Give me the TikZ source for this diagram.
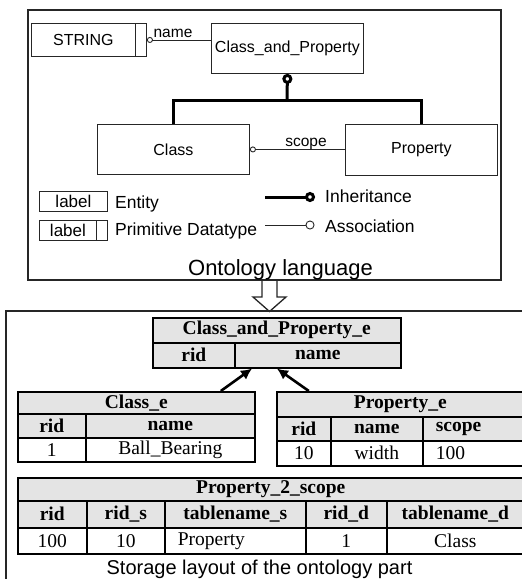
\documentclass[tikz,border=0pt]{standalone}
\usepackage{fontspec}
\newfontfamily\uisans{Liberation Sans}
\newfontfamily\tabserif{Liberation Serif}
\usetikzlibrary{arrows.meta,calc}
\definecolor{hdrgray}{HTML}{E4E4E4}
\definecolor{inkgray}{HTML}{262626}
\begin{document}
\begin{tikzpicture}[x=1pt,y=-1pt,
  every node/.style={inner sep=0pt},
  frame/.style={draw=inkgray,line width=1.3pt},
  ebox/.style={draw=inkgray,line width=0.9pt,anchor=north west,
    font=\uisans\fontsize{16}{19}\selectfont},
  lgbox/.style={ebox,font=\uisans\fontsize{17}{20}\selectfont},
  lgtext/.style={anchor=base west,font=\uisans\fontsize{17.5}{20}\selectfont},
  rolelbl/.style={anchor=base,font=\uisans\fontsize{15.5}{18}\selectfont},
  title/.style={anchor=base,font=\uisans\fontsize{#1}{#1}\selectfont},
  assoc/.style={draw=inkgray,line width=0.9pt},
  inh/.style={draw=black,line width=3pt},
  hcell/.style={draw=black,line width=1.6pt,fill=hdrgray,anchor=north west,
    font=\tabserif\bfseries\fontsize{19.5}{22}\selectfont},
  dcell/.style={draw=black,line width=1.6pt,fill=white,anchor=north west,
    font=\tabserif\fontsize{19.5}{22}\selectfont},
  lalign/.style={text width=#1,align=left},
  tarrow/.style={draw=black,line width=2.6pt,-{Latex[length=11pt,width=11pt]}}
]
\useasboundingbox (0,0) rectangle (522,579);
\clip (0,0) rectangle (522,579);

% ---------- ontology language ----------
\draw[frame,fill=white] (262,280) -- (262,297) -- (253,297) -- (269.5,311.5)
  -- (286,297) -- (277,297) -- (277,280);
\draw[frame] (28,10) rectangle (501,280);

\node[ebox,minimum width=104pt,minimum height=33pt] (strmain) at (31,23) {STRING};
\node[ebox,minimum width=11pt,minimum height=33pt] (strslot) at (135,23) {};
\node[ebox,minimum width=152pt,minimum height=50pt] (cap) at (211,23) {Class\_and\_Property};
\node[ebox,minimum width=152pt,minimum height=50pt] (cls) at (97,124) {Class};
\node[ebox,minimum width=152pt,minimum height=51pt] (prp) at (345,124) {Property};

% association: name
\draw[assoc,{Circle[open,length=6pt,width=6pt]}-] (strslot.east) -- (strslot.east -| cap.west);
\node[rolelbl] (namelbl) at (173,37.5) {name};

% association: scope
\draw[assoc,{Circle[open,length=6pt,width=6pt]}-] (cls.east) -- (cls.east -| prp.west);
\node[rolelbl] (scopelbl) at (306,146) {scope};

% inheritance
\coordinate (inhj) at (287,100);
\draw[inh] (cls.north) |- (inhj) -| (prp.north);
\draw[inh,{Circle[open,length=10pt,width=10pt]}-] (cap.south) -- (inhj);

% legend
\node[lgbox,minimum width=68pt,minimum height=20pt] (lgent) at (39,191) {label};
\node[lgbox,minimum width=57pt,minimum height=20pt] (lgprim) at (39,220) {label};
\node[lgbox,minimum width=11pt,minimum height=20pt] (lgslot) at (96,220) {};
\node[lgtext] (lgenttxt) at (115,208) {Entity};
\node[lgtext] (lgprimtxt) at (115,235) {Primitive Datatype};

\coordinate (inhA) at (265,197);
\coordinate (inhB) at (315,197);
\draw[inh,-{Circle[open,length=10pt,width=10pt]}] (inhA) -- (inhB);
\node[lgtext] (inhtxt) at (325,202) {Inheritance};

\coordinate (asA) at (265,225);
\coordinate (asB) at (314.5,225);
\draw[assoc,-{Circle[open,length=9pt,width=9pt]}] (asA) -- (asB);
\node[lgtext] (astxt) at (325,232) {Association};

\node[title=22] (onttitle) at (280.5,275) {Ontology language};

% ---------- storage layout ----------
\draw[frame] (530,311) -- (6,311) -- (6,590);

% Class_and_Property_e
\node[hcell,minimum width=248pt,minimum height=25pt] (cph) at (152,317) {Class\_and\_Property\_e};
\node[hcell,minimum width=82pt,minimum height=25pt] (cprid) at (152,342) {rid};
\node[hcell,minimum width=166pt,minimum height=25pt] (cpname) at (234,342) {name};

% Class_e
\node[hcell,minimum width=237pt,minimum height=22pt] (ceh) at (17,391) {Class\_e};
\node[hcell,minimum width=68pt,minimum height=24pt] (cerid) at (17,413) {rid};
\node[hcell,minimum width=169pt,minimum height=24pt] (cename) at (85,413) {name};
\node[dcell,minimum width=68pt,minimum height=24pt] (cev1) at (17,437) {1};
\node[dcell,minimum width=169pt,minimum height=24pt] (cev2) at (85,437) {Ball\_Bearing};

% Property_e
\node[hcell,minimum width=247pt,minimum height=25pt] (peh) at (276,391) {Property\_e};
\node[hcell,minimum width=54pt,minimum height=24pt] (perid) at (276,416) {rid};
\node[hcell,minimum width=92pt,minimum height=24pt] (pename) at (330,416) {name};
\node[hcell,minimum width=101pt,minimum height=24pt,lalign=75pt] (pescope) at (422,416) {scope};
\node[dcell,minimum width=54pt,minimum height=25pt] (pev1) at (276,440) {10};
\node[dcell,minimum width=92pt,minimum height=25pt] (pev2) at (330,440) {width};
\node[dcell,minimum width=101pt,minimum height=25pt,lalign=75pt] (pev3) at (422,440) {100};

% Property_2_scope
\node[hcell,minimum width=506pt,minimum height=23pt] (psh) at (17,477) {Property\_2\_scope};
\node[hcell,minimum width=69pt,minimum height=27pt] (psc1) at (17,500) {rid};
\node[hcell,minimum width=78pt,minimum height=27pt] (psc2) at (86,500) {rid\_s};
\node[hcell,minimum width=141pt,minimum height=27pt] (psc3) at (164,500) {tablename\_s};
\node[hcell,minimum width=81pt,minimum height=27pt] (psc4) at (305,500) {rid\_d};
\node[hcell,minimum width=137pt,minimum height=27pt] (psc5) at (386,500) {tablename\_d};
\node[dcell,minimum width=69pt,minimum height=26pt] (psv1) at (17,527) {100};
\node[dcell,minimum width=78pt,minimum height=26pt] (psv2) at (86,527) {10};
\node[dcell,minimum width=141pt,minimum height=26pt,lalign=115pt] (psv3) at (164,527) {Property};
\node[dcell,minimum width=81pt,minimum height=26pt] (psv4) at (305,527) {1};
\node[dcell,minimum width=137pt,minimum height=26pt] (psv5) at (386,527) {Class};

% references to the parent table
\draw[tarrow] ([xshift=84.5pt]ceh.north) -- ([xshift=18pt]cpname.south west);
\draw[tarrow] ([xshift=-91.5pt]peh.north) -- ([xshift=43pt]cpname.south west);

\node[title=20] (storetitle) at (259.5,574) {Storage layout of the ontology part};
\end{tikzpicture}
\end{document}
